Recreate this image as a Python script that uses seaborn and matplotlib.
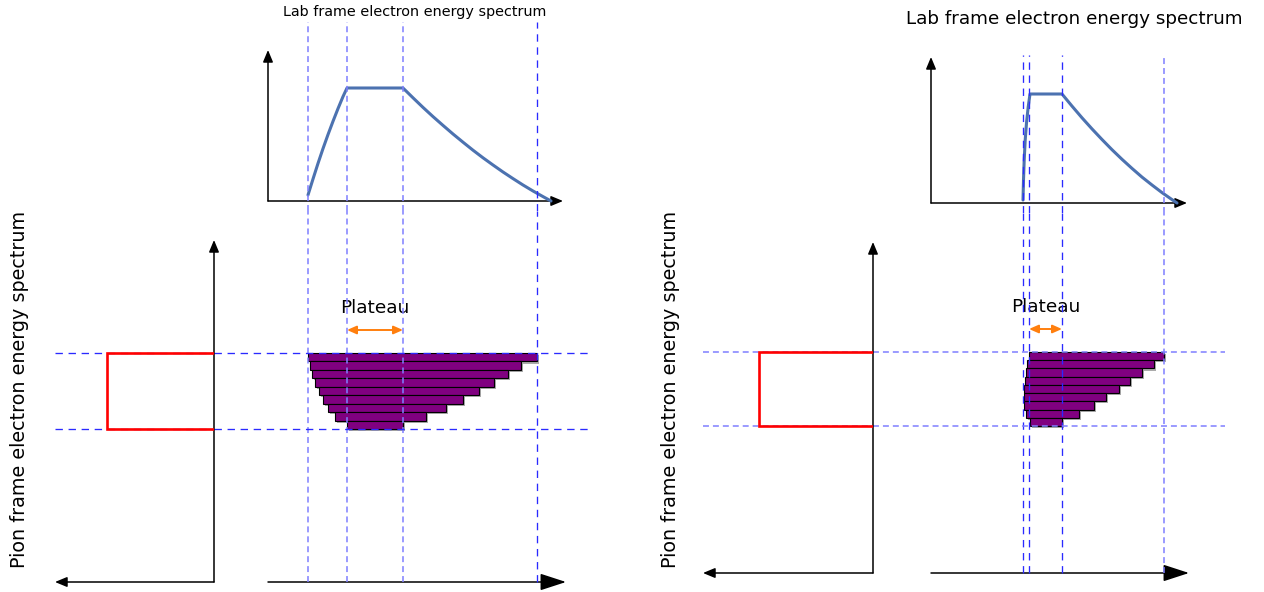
import matplotlib
matplotlib.use("Agg")
import matplotlib.pyplot as plt
import matplotlib.patheffects as pe
import seaborn as sns

# ---- data (arbitrary energy / count units) ----
# left: lab spectrum, pion-frame bars, guides
left_lab_energy = [4.0, 4.5, 5.0, 5.5, 6.0, 6.5, 7.0, 7.5, 7.9,
                   13.5, 14.5, 15.5, 16.5, 17.5, 18.5, 19.5, 20.5, 21.5, 22.5,
                   23.5, 24.5, 25.5, 26.5, 27.5, 28.3]
left_lab_counts = [0.6, 2.2, 3.76, 5.24, 6.64, 7.97, 9.24, 10.44, 11.3,
                   11.3, 10.32, 9.36, 8.44, 7.56, 6.70, 5.88, 5.08, 4.32, 3.60,
                   2.90, 2.24, 1.60, 1.00, 0.44, 0.0]
left_bar_lo = [4.0, 4.2, 4.4, 4.7, 5.1, 5.5, 6.0, 6.7, 7.9]
left_bar_hi = [26.9, 25.3, 24.0, 22.6, 21.1, 19.5, 17.8, 15.8, 13.5]
left_band = [15.3, 22.9]
left_box_counts = 10.7
left_guides = [4.0, 7.9, 13.5, 26.9]
left_guide_light = [True, True, True, False]
left_plateau = [7.9, 13.5]

# right
right_lab_energy = [9.2, 9.25, 9.32, 9.42, 9.55, 9.72, 9.9,
                    13.1, 14.1, 15.1, 16.1, 17.1, 18.1, 19.1, 20.1, 21.1, 22.1,
                    23.1, 24.1, 24.6]
right_lab_counts = [0.3, 2.3, 4.3, 6.3, 8.0, 9.6, 10.9,
                    10.9, 9.69, 8.52, 7.41, 6.35, 5.33, 4.37, 3.46, 2.59, 1.80,
                    1.04, 0.34, 0.0]
right_bar_lo = [9.8, 9.6, 9.5, 9.4, 9.3, 9.3, 9.3, 9.5, 9.9]
right_bar_hi = [23.3, 22.3, 21.1, 19.9, 18.8, 17.5, 16.3, 14.8, 13.1]
right_band = [14.7, 22.1]
right_box_counts = 11.4
right_guides = [9.2, 9.8, 13.1, 23.3]
right_guide_light = [False, False, False, True]
right_plateau = [9.8, 13.1]

title_text = "Lab frame electron energy spectrum"
ylabel_text = "Pion frame electron energy spectrum"
plateau_text = "Plateau"

W, H = 1264, 592
PX = 10.0  # pixels per data unit

LIGHT = dict(color="#7f7fff", lw=1.1, linestyle=(0, (3.9, 2.6)))
DARK = dict(color="#2a2aff", lw=0.95, linestyle=(0, (5.6, 4.3)))


def rect(x0, x1, y0, y1):
    return [x0 / W, 1 - y1 / H, (x1 - x0) / W, (y1 - y0) / H]


def arrow(ax, start, tip, big=False):
    if big:
        style = "-|>,head_length=0.8,head_width=0.26"
        ms = 20
    else:
        style = "-|>,head_length=0.6,head_width=0.25"
        ms = 12
    ax.annotate("", xy=tip, xytext=start, annotation_clip=False,
                arrowprops=dict(arrowstyle=style, mutation_scale=ms, color="black",
                                lw=1.1, shrinkA=0, shrinkB=0))


def draw_panel(fig, lay, lab_e, lab_i, bar_lo, bar_hi, band, box_w,
               guides, guide_light, band_light, plateau):
    ox, xp, xs, xe = lay["x0"], lay["x_pion"], lay["x_start"], lay["x_end"]
    oy_lab, oy_bot = lay["y_lab"], lay["y_bot"]
    split = oy_lab + 10

    ax_lab = fig.add_axes(rect(xp, xe, 0, split))
    ax_bar = fig.add_axes(rect(xp, xe, split, H))
    ax_pion = fig.add_axes(rect(xs, xp, split, H))
    for ax in (ax_lab, ax_bar, ax_pion):
        ax.axis("off")
        ax.patch.set_alpha(0)

    ex = ((xp - ox) / PX, (xe - ox) / PX)
    ax_lab.set_xlim(ex)
    ax_bar.set_xlim(ex)
    ax_lab.set_ylim((oy_lab - split) / PX, oy_lab / PX)
    ax_bar.set_ylim((oy_bot - H) / PX, (oy_bot - split) / PX)
    ax_pion.set_ylim(ax_bar.get_ylim())
    ax_pion.set_xlim((xp - xs) / PX, 0)

    # lab frame spectrum
    arrow(ax_lab, (0, 0), (0, (oy_lab - lay["lab_tip_y"]) / PX))
    arrow(ax_lab, (0, 0), ((lay["lab_tip_x"] - ox) / PX, 0))
    sns.lineplot(x=lab_e, y=lab_i, ax=ax_lab, color="#4c72b0", lw=2.2,
                 estimator=None, sort=False, zorder=3)

    # bars of the boosted spectrum
    h = (band[1] - band[0]) / len(bar_lo)
    centers = [band[1] - (i + 0.5) * h for i in range(len(bar_lo))]
    widths = [b - a for a, b in zip(bar_lo, bar_hi)]
    bars = ax_bar.barh(centers, widths, left=bar_lo, height=h, color="#800080",
                       edgecolor="black", linewidth=0.8, zorder=2)
    for b in bars:
        b.set_path_effects([pe.SimplePatchShadow(offset=(1.5, -1.5), shadow_rgbFace="0.45",
                                                 alpha=0.6), pe.Normal()])
    arrow(ax_bar, (0, 0), ((lay["bot_tip_x"] - ox) / PX, 0), big=True)

    # vertical guides
    top_i = (oy_lab - lay["guide_top"]) / PX
    for g, light in zip(guides, guide_light):
        st = LIGHT if light else DARK
        ax_lab.vlines(g, ax_lab.get_ylim()[0], top_i, zorder=4, **st)
        ax_bar.vlines(g, 0, ax_bar.get_ylim()[1], zorder=4, **st)

    # horizontal guides
    st = LIGHT if band_light else DARK
    for b in band:
        ax_bar.hlines(b, ex[0], (lay["hband_x1"] - ox) / PX, zorder=4, **st)
        ax_pion.hlines(b, (xp - lay["hband_x0"]) / PX, 0, zorder=1, **st)

    # pion frame spectrum
    arrow(ax_pion, (0, 0), (0, (oy_bot - lay["pion_tip_y"]) / PX))
    arrow(ax_pion, (0, 0), ((xp - lay["pion_tip_x"]) / PX, 0))
    ax_pion.plot([0, box_w, box_w, 0], [band[0], band[0], band[1], band[1]],
                 color="#ff0000", lw=1.9, zorder=3, solid_joinstyle="miter")

    # plateau marker
    mid = (plateau[0] + plateau[1]) / 2
    ax_bar.text(mid, (oy_bot - lay["plat_text_y"]) / PX, plateau_text, ha="center",
                va="center", fontsize=13.3)
    ax_bar.annotate("", xy=(plateau[1], (oy_bot - lay["plat_arrow_y"]) / PX),
                    xytext=(plateau[0], (oy_bot - lay["plat_arrow_y"]) / PX),
                    arrowprops=dict(arrowstyle="<|-|>,head_length=0.5,head_width=0.22",
                                    mutation_scale=11, color="#ff7f0e", lw=1.4,
                                    shrinkA=0, shrinkB=0))

    fig.text(lay["title_x"] / W, 1 - lay["title_y"] / H, title_text, ha="center",
             va="center", fontsize=lay["title_fs"])
    fig.text(lay["ylab_x"] / W, 1 - 389 / H, ylabel_text, rotation=90, ha="center",
             va="center", fontsize=13.8)


sns.set_theme(style="white")
plt.rcParams["font.family"] = ["DejaVu Sans"]
plt.rcParams["text.color"] = "black"

fig = plt.figure(figsize=(W / 100, H / 100), dpi=100)
fig.patch.set_facecolor("white")

left_layout = dict(x0=268, x_pion=214, x_start=40, x_end=632, y_lab=201, y_bot=582,
                   lab_tip_x=563, lab_tip_y=50, bot_tip_x=566, pion_tip_y=240, pion_tip_x=55,
                   guide_top=22, hband_x0=55, hband_x1=590, plat_text_y=308, plat_arrow_y=330,
                   title_x=415, title_y=12, title_fs=10.4, ylab_x=20)
right_layout = dict(x0=931, x_pion=873, x_start=690, x_end=1264, y_lab=203, y_bot=573,
                    lab_tip_x=1187, lab_tip_y=57, bot_tip_x=1189, pion_tip_y=242, pion_tip_x=703,
                    guide_top=55, hband_x0=703, hband_x1=1225, plat_text_y=307, plat_arrow_y=329,
                    title_x=1074, title_y=19, title_fs=13.2, ylab_x=670)

draw_panel(fig, left_layout, left_lab_energy, left_lab_counts, left_bar_lo, left_bar_hi,
           left_band, left_box_counts, left_guides, left_guide_light, False, left_plateau)
draw_panel(fig, right_layout, right_lab_energy, right_lab_counts, right_bar_lo, right_bar_hi,
           right_band, right_box_counts, right_guides, right_guide_light, True, right_plateau)

fig.savefig("out.png", dpi=100, facecolor="white")
plt.close(fig)
